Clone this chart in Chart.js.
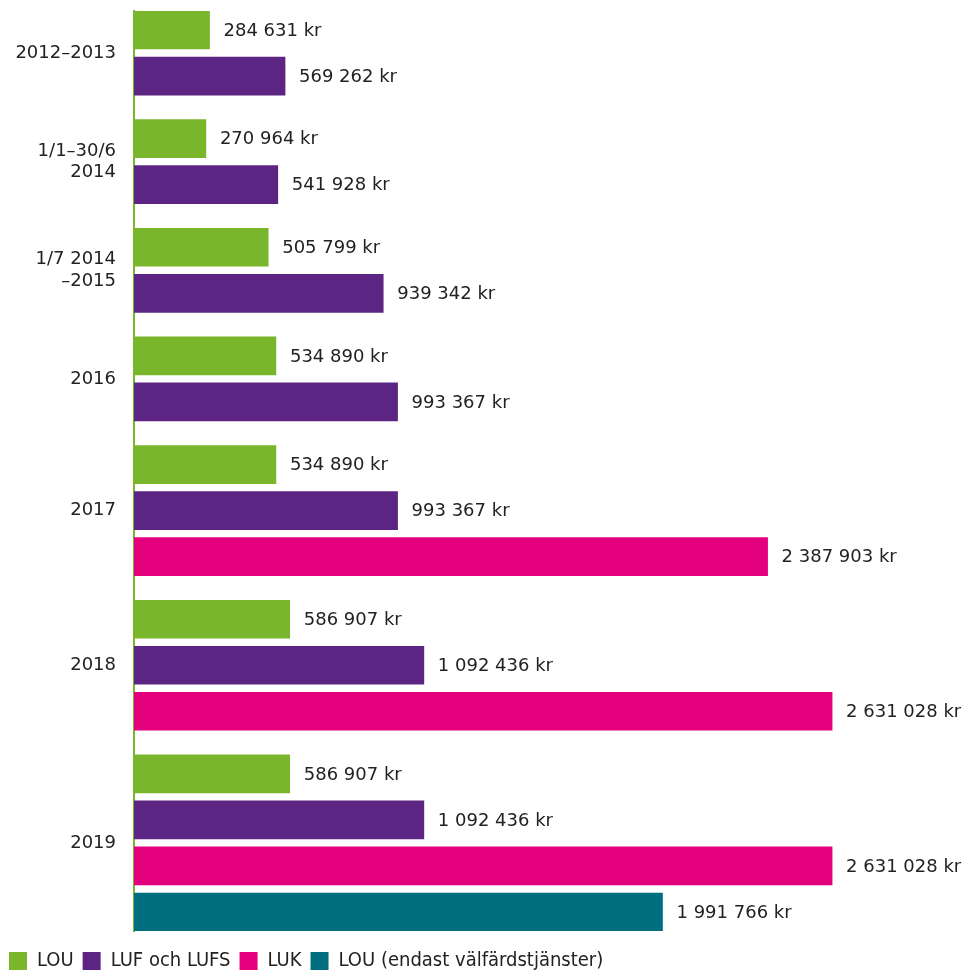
<!DOCTYPE html>
<html><head><meta charset="utf-8">
<script src="https://cdn.jsdelivr.net/npm/chart.js@4/dist/chart.umd.min.js"></script>
<style>html,body{margin:0;padding:0;background:#fff}#wrap{position:relative;width:963px;height:973px}</style>
</head><body><div id="wrap"><canvas id="c"></canvas></div>
<script>
const periods = ['2012–2013', ['1/1–30/6', '2014'], ['1/7 2014', '–2015'], '2016', '2017', '2018', '2019'];
const seriesNames = ['LOU', 'LUF och LUFS', 'LUK', 'LOU (endast välfärdstjänster)'];
const lou = [284631, 270964, 505799, 534890, 534890, 586907, 586907];
const lufLufs = [569262, 541928, 939342, 993367, 993367, 1092436, 1092436];
const luk = [null, null, null, null, 2387903, 2631028, 2631028];
const louValfard = [null, null, null, null, null, null, 1991766];
const seriesColors = ['#7ab62b', '#5c2483', '#e4007c', '#006e7e'];

const allSeries = [lou, lufLufs, luk, louValfard];
const GROUP_GAP = 0.36;
const HALF_BAR = 19 / 46;
let pos = 0;
const groupCenters = [];
const points = allSeries.map(() => []);
periods.forEach((p, gi) => {
  const start = pos;
  allSeries.forEach((s, si) => {
    if (s[gi] != null) { points[si].push({ x: s[gi], y: pos }); pos += 1; }
  });
  groupCenters.push((start + pos - 1) / 2);
  pos += GROUP_GAP;
});
const lastPos = pos - 1 - GROUP_GAP;

const fmt = v => String(v).replace(/\B(?=(\d{3})+(?!\d))/g, ' ') + ' kr';
const FONT = '"DejaVu Sans", sans-serif';

const valueLabels = {
  id: 'valueLabels',
  afterLayout(chart) {
    if (chart.legend) { chart.legend.top += 11; chart.legend.bottom += 11; }
  },
  afterDatasetsDraw(chart) {
    const ctx = chart.ctx;
    ctx.save();
    ctx.font = '18px ' + FONT;
    ctx.fillStyle = '#222';
    ctx.textBaseline = 'middle';
    ctx.textAlign = 'left';
    chart.data.datasets.forEach((ds, i) => {
      chart.getDatasetMeta(i).data.forEach((el, j) => {
        ctx.fillText(fmt(ds.data[j].x), el.x + 14, el.y + 1);
      });
    });
    ctx.restore();
  }
};

new Chart(document.getElementById('c'), {
  type: 'bar',
  data: {
    datasets: seriesNames.map((name, i) => ({
      label: name,
      data: points[i],
      backgroundColor: seriesColors[i],
      borderWidth: 0,
      grouped: false,
      barThickness: 38
    }))
  },
  options: {
    indexAxis: 'y',
    responsive: true,
    maintainAspectRatio: false,
    animation: false,
    layout: { padding: { top: 11, right: 33, left: 0, bottom: 3 } },
    scales: {
      x: { type: 'linear', display: false, min: 0, max: 3000000 },
      y: {
        type: 'linear',
        reverse: true,
        offset: false,
        min: -HALF_BAR,
        max: lastPos + HALF_BAR,
        z: 1,
        grid: { display: false, drawTicks: false },
        border: { display: true, color: '#7ab62b', width: 2 },
        afterFit: s => { s.width = 134; s.paddingTop = 0; s.paddingBottom = 0; },
        afterBuildTicks: s => { s.ticks = groupCenters.map(v => ({ value: v })); },
        ticks: {
          autoSkip: false,
          padding: 18,
          color: '#222',
          font: { family: FONT, size: 18 },
          callback: (v, i) => periods[i]
        }
      }
    },
    plugins: {
      legend: {
        position: 'bottom',
        align: 'start',
        labels: {
          boxWidth: 18,
          boxHeight: 18,
          padding: 9,
          color: '#222',
          font: { family: '"Liberation Sans Narrow", "DejaVu Sans Condensed", sans-serif', size: 20 }
        }
      },
      tooltip: { enabled: false }
    }
  },
  plugins: [valueLabels]
});
</script></body></html>
